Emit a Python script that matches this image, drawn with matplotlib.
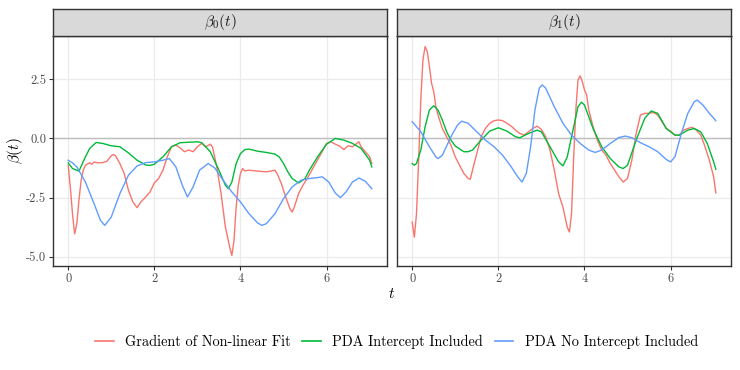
import numpy as np
import matplotlib.pyplot as plt
from matplotlib import rcParams
from matplotlib.lines import Line2D

rcParams['font.family'] = 'serif'
rcParams['font.serif'] = ['cmr10']
rcParams['mathtext.fontset'] = 'cm'
rcParams['axes.unicode_minus'] = False

# --- beta_0(t) panel ---
t_b0_red = [0, 0.05, 0.1, 0.15, 0.2, 0.25, 0.3, 0.35, 0.4, 0.5, 0.55, 0.6, 0.7, 0.8, 0.9,
            1.0, 1.05, 1.1, 1.2, 1.3, 1.4, 1.5, 1.6, 1.65, 1.7, 1.8, 1.9, 2.0, 2.1, 2.2,
            2.3, 2.4, 2.5, 2.6, 2.7, 2.8, 2.9, 3.0, 3.1, 3.2, 3.3, 3.35, 3.45, 3.55, 3.65,
            3.75, 3.8, 3.85, 3.9, 3.95, 4.0, 4.05, 4.1, 4.2, 4.4, 4.6, 4.7, 4.8, 4.85,
            4.95, 5.05, 5.15, 5.2, 5.25, 5.35, 5.45, 5.55, 5.7, 5.85, 6.0, 6.1, 6.2, 6.3,
            6.4, 6.5, 6.6, 6.7, 6.75, 6.8, 6.9, 7.0, 7.05]
b0_red = [-1.13, -2.05, -3.18, -4.03, -3.6, -2.61, -1.77, -1.34, -1.13, -1.03, -1.09, -1.0,
          -1.03, -1.02, -0.96, -0.73, -0.68, -0.73, -1.06, -1.48, -2.19, -2.68, -2.92, -2.78,
          -2.66, -2.47, -2.26, -1.88, -1.69, -1.34, -0.78, -0.35, -0.28, -0.4, -0.56, -0.49,
          -0.56, -0.35, -0.21, -0.35, -0.24, -0.35, -1.2, -2.33, -3.74, -4.59, -4.94, -4.31,
          -2.9, -1.98, -1.48, -1.27, -1.37, -1.34, -1.38, -1.41, -1.38, -1.34, -1.48, -1.91,
          -2.47, -2.97, -3.11, -2.9, -2.33, -1.98, -1.69, -1.2, -0.71, -0.21, -0.14, -0.24,
          -0.32, -0.47, -0.31, -0.35, -0.21, -0.14, -0.35, -0.56, -0.78, -1.06]

t_b0_green = [0, 0.1, 0.25, 0.4, 0.5, 0.65, 0.8, 1.0, 1.2, 1.4, 1.6, 1.8, 1.9, 2.0, 2.2, 2.4,
              2.6, 2.8, 3.0, 3.1, 3.3, 3.5, 3.65, 3.72, 3.8, 3.9, 4.0, 4.1, 4.2, 4.4, 4.6,
              4.8, 4.9, 5.0, 5.1, 5.2, 5.35, 5.5, 5.6, 5.8, 6.0, 6.2, 6.4, 6.6, 6.8, 7.0, 7.05]
b0_green = [-1.03, -1.27, -1.38, -0.78, -0.42, -0.17, -0.21, -0.31, -0.35, -0.61, -0.92,
            -1.12, -1.14, -1.09, -0.78, -0.35, -0.18, -0.16, -0.14, -0.18, -0.56, -1.34,
            -1.98, -2.12, -1.84, -1.06, -0.64, -0.47, -0.45, -0.54, -0.59, -0.66, -0.78,
            -1.06, -1.41, -1.69, -1.88, -1.69, -1.34, -0.75, -0.24, 0.0, -0.07, -0.21,
            -0.42, -0.92, -1.2]

t_b0_blue = [0, 0.1, 0.2, 0.4, 0.6, 0.75, 0.85, 1.0, 1.2, 1.4, 1.6, 1.8, 2.0, 2.2, 2.35,
             2.5, 2.65, 2.77, 2.9, 3.05, 3.25, 3.4, 3.6, 3.8, 4.0, 4.2, 4.4, 4.5, 4.6, 4.8,
             5.0, 5.2, 5.4, 5.6, 5.8, 5.9, 6.05, 6.2, 6.32, 6.45, 6.6, 6.75, 6.9, 7.05]
b0_blue = [-0.92, -1.03, -1.2, -1.84, -2.75, -3.46, -3.67, -3.32, -2.33, -1.55, -1.16,
           -1.02, -0.99, -0.92, -0.85, -1.2, -1.98, -2.47, -2.05, -1.34, -1.06, -1.24,
           -1.77, -2.26, -2.68, -3.18, -3.57, -3.67, -3.6, -3.18, -2.54, -2.05, -1.77,
           -1.69, -1.65, -1.62, -1.84, -2.3, -2.5, -2.26, -1.84, -1.67, -1.81, -2.12]

# --- beta_1(t) panel ---
t_b1_red = [0, 0.05, 0.1, 0.15, 0.2, 0.25, 0.3, 0.35, 0.4, 0.45, 0.5, 0.55, 0.6, 0.7, 0.8,
            0.9, 1.0, 1.1, 1.2, 1.3, 1.35, 1.4, 1.5, 1.6, 1.7, 1.8, 1.9, 2.0, 2.1, 2.2,
            2.3, 2.4, 2.5, 2.6, 2.7, 2.8, 2.9, 3.0, 3.1, 3.2, 3.3, 3.4, 3.5, 3.6, 3.65,
            3.7, 3.75, 3.8, 3.85, 3.9, 3.95, 4.0, 4.05, 4.1, 4.2, 4.3, 4.4, 4.5, 4.6, 4.7,
            4.8, 4.9, 5.0, 5.1, 5.2, 5.3, 5.4, 5.5, 5.6, 5.7, 5.8, 5.9, 6.0, 6.1, 6.2,
            6.3, 6.4, 6.5, 6.6, 6.7, 6.8, 6.9, 7.0, 7.05]
b1_red = [-3.53, -4.17, -3.18, -0.92, 1.62, 3.32, 3.88, 3.67, 3.04, 2.33, 1.98, 1.34, 0.99,
          0.42, 0.07, -0.28, -0.78, -1.13, -1.48, -1.69, -1.72, -1.34, -0.64, 0.07, 0.42,
          0.64, 0.75, 0.78, 0.75, 0.64, 0.52, 0.35, 0.21, 0.14, 0.28, 0.42, 0.52, 0.38,
          0.07, -0.49, -1.34, -2.33, -2.9, -3.74, -3.95, -3.18, -0.78, 1.2, 2.47, 2.64,
          2.4, 2.05, 1.84, 1.2, 0.49, -0.07, -0.49, -0.71, -1.06, -1.34, -1.62, -1.84,
          -1.69, -0.92, 0.21, 0.99, 1.06, 1.06, 1.1, 0.99, 0.71, 0.42, 0.31, 0.14, 0.14,
          0.35, 0.42, 0.47, 0.35, 0.14, -0.35, -0.92, -1.62, -2.3]

t_b1_green = [0, 0.05, 0.1, 0.2, 0.3, 0.4, 0.5, 0.6, 0.7, 0.8, 0.9, 1.0, 1.2, 1.3, 1.4, 1.6,
              1.8, 2.0, 2.2, 2.4, 2.5, 2.7, 2.9, 3.0, 3.2, 3.4, 3.5, 3.6, 3.75, 3.85, 3.93,
              4.0, 4.2, 4.4, 4.6, 4.8, 4.9, 5.0, 5.2, 5.4, 5.55, 5.7, 5.9, 6.1, 6.2, 6.4,
              6.55, 6.7, 6.85, 7.0, 7.05]
b1_green = [-1.06, -1.13, -1.06, -0.49, 0.49, 1.2, 1.38, 1.2, 0.78, 0.28, -0.07, -0.32,
            -0.56, -0.56, -0.49, -0.07, 0.31, 0.45, 0.31, 0.07, 0.03, 0.21, 0.35, 0.28,
            -0.35, -0.99, -1.16, -0.78, 0.49, 1.34, 1.53, 1.41, 0.42, -0.35, -0.85, -1.2,
            -1.27, -1.13, -0.07, 0.85, 1.16, 1.06, 0.42, 0.14, 0.14, 0.35, 0.42, 0.28,
            -0.21, -0.99, -1.3]

t_b1_blue = [0, 0.2, 0.4, 0.55, 0.6, 0.7, 0.9, 1.05, 1.15, 1.3, 1.5, 1.7, 1.9, 2.1, 2.3,
             2.45, 2.55, 2.65, 2.75, 2.85, 2.95, 3.02, 3.1, 3.3, 3.5, 3.7, 3.9, 4.1, 4.25,
             4.4, 4.6, 4.8, 4.95, 5.1, 5.3, 5.5, 5.7, 5.9, 6.0, 6.1, 6.25, 6.4, 6.55, 6.62,
             6.75, 6.9, 7.05]
b1_blue = [0.71, 0.28, -0.35, -0.78, -0.85, -0.71, 0.07, 0.56, 0.73, 0.64, 0.28, -0.07,
           -0.35, -0.71, -1.2, -1.62, -1.84, -1.48, -0.35, 1.2, 2.12, 2.26, 2.12, 1.34,
           0.64, 0.14, -0.21, -0.49, -0.59, -0.49, -0.21, 0.04, 0.1, 0.03, -0.18, -0.35,
           -0.56, -0.89, -0.99, -0.78, 0.21, 1.06, 1.55, 1.62, 1.41, 1.06, 0.75]

series_names = ['Gradient of Non-linear Fit', 'PDA Intercept Included', 'PDA No Intercept Included']
colors = ['#F8766D', '#00BA38', '#619CFF']
strip_labels = [r'$\beta_0(t)$', r'$\beta_1(t)$']
x_ticks = [0, 2, 4, 6]
y_ticks = [-5.0, -2.5, 0.0, 2.5]

panels = [
    [(t_b0_red, b0_red), (t_b0_green, b0_green), (t_b0_blue, b0_blue)],
    [(t_b1_red, b1_red), (t_b1_green, b1_green), (t_b1_blue, b1_blue)],
]

W, H = 740, 370
fig = plt.figure(figsize=(W / 100, H / 100), dpi=100)

panel_lefts = [53, 397]
pw = 334
p_top, p_bot = 36, 266
s_top = 9

for i, (px, data) in enumerate(zip(panel_lefts, panels)):
    ax = fig.add_axes([px / W, 1 - p_bot / H, pw / W, (p_bot - p_top) / H])
    ax.set_facecolor('white')
    for v in x_ticks:
        ax.axvline(v, color='#EBEBEB', lw=0.9, zorder=0)
    for v in y_ticks:
        ax.axhline(v, color='#EBEBEB', lw=0.9, zorder=0)
    ax.axhline(0, color='#BEBEBE', lw=1.0, zorder=1)
    for (tt, yy), c in zip(data, colors):
        ax.plot(tt, yy, color=c, lw=1.0, zorder=2)
    ax.set_xlim(-0.3525, 7.4025)
    ax.set_ylim(-5.385, 4.325)
    ax.set_xticks(x_ticks)
    ax.set_xticklabels([str(v) for v in x_ticks])
    ax.set_yticks(y_ticks)
    ax.set_yticklabels(['%.1f' % v for v in y_ticks])
    ax.tick_params(length=3, width=0.8, color='#333333', labelcolor='#4D4D4D',
                   labelsize=9, pad=2)
    if i == 1:
        ax.tick_params(axis='y', left=False, labelleft=False)
    for sp in ax.spines.values():
        sp.set_color('#333333')
        sp.set_linewidth(1.0)

    sax = fig.add_axes([px / W, 1 - p_top / H, pw / W, (p_top - s_top) / H])
    sax.set_facecolor('#D9D9D9')
    sax.set_xticks([])
    sax.set_yticks([])
    for sp in sax.spines.values():
        sp.set_color('#333333')
        sp.set_linewidth(1.0)
    sax.text(0.5, 0.5, strip_labels[i], transform=sax.transAxes, ha='center',
             va='center', fontsize=11, color='#1A1A1A')

fig.text(392 / W, 1 - 294 / H, r'$t$', ha='center', va='center', fontsize=11)
fig.text(15 / W, 1 - 151 / H, r'$\beta(t)$', ha='center', va='center', fontsize=11,
         rotation=90)

handles = [Line2D([], [], color=c, lw=1.2) for c in colors]
fig.legend(handles, series_names, loc='center', bbox_to_anchor=(396.5 / W, 1 - 342 / H),
           ncol=3, frameon=False, fontsize=10.3, handlelength=1.3, handletextpad=0.8,
           columnspacing=0.8)

fig.savefig('out.png', dpi=100)
